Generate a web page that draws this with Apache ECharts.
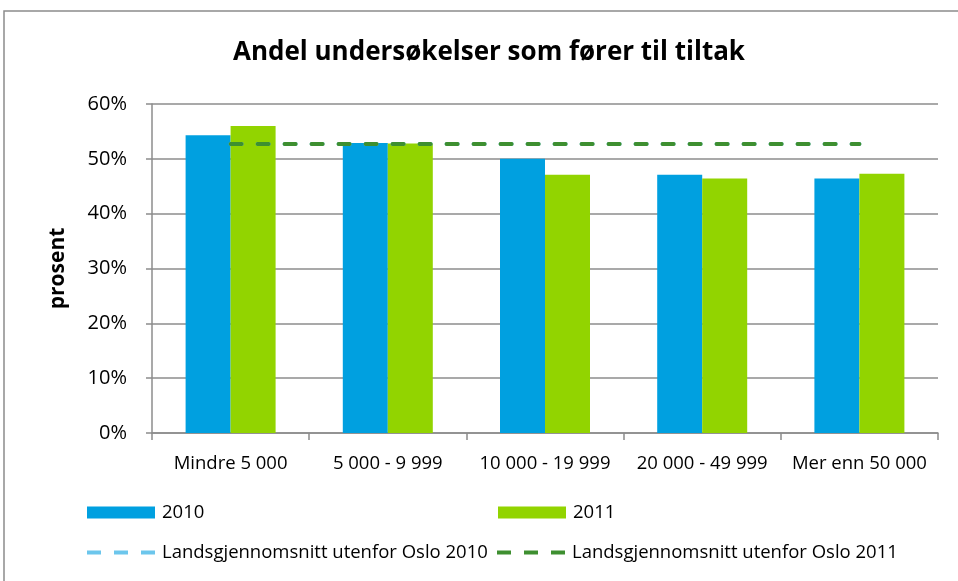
<!DOCTYPE html>
<html>
<head>
<meta charset="utf-8">
<script src="https://cdn.jsdelivr.net/npm/echarts@6/dist/echarts.min.js"></script>
<style>
  html, body { margin: 0; padding: 0; background: #fff; }
  #chart { width: 958px; height: 581px; }
</style>
</head>
<body>
<div id="chart"></div>
<script>
const categories = ['Mindre 5 000', '5 000 - 9 999', '10 000 - 19 999', '20 000 - 49 999', 'Mer enn 50 000']
const values2010 = [54.3, 52.9, 50.0, 47.1, 46.4]
const values2011 = [56.0, 52.8, 47.1, 46.4, 47.3]
const avg2010 = [52.7, 52.7, 52.7, 52.7, 52.7]
const avg2011 = [52.7, 52.7, 52.7, 52.7, 52.7]
const yTicks = [0, 10, 20, 30, 40, 50, 60]

const font = 'Open Sans'
const grey = '#8c8c8c'
// three short bars, used as legend icon for the dashed lines
const dashIcon = 'path://M0,0h14v4h-14z M27,0h14v4h-14z M54,0h14v4h-14z'

const myChart = echarts.init(document.getElementById('chart'))

const legendText = { fontFamily: font, fontSize: 18.5, color: '#000', padding: [0, 0, 0, 2] }

let option = {
  animation: false,
  backgroundColor: '#fff',
  textStyle: { fontFamily: font },
  graphic: [
    {
      type: 'rect',
      shape: { x: 4, y: 11, width: 1200, height: 1200 },
      style: { fill: 'none', stroke: grey, lineWidth: 1.5 },
      silent: true,
      z: -10
    }
  ],
  title: {
    text: 'Andel undersøkelser som fører til tiltak',
    left: 484,
    top: 35,
    textAlign: 'center',
    textStyle: { fontFamily: font, fontSize: 26, fontWeight: 'bold', color: '#000' }
  },
  grid: { left: 152, right: 20, top: 104, bottom: 148 },
  legend: [
    {
      left: 87, top: 503, padding: 0, itemWidth: 68, itemHeight: 12,
      data: [{ name: '2010', icon: 'rect' }], textStyle: legendText
    },
    {
      left: 498, top: 503, padding: 0, itemWidth: 68, itemHeight: 12,
      data: [{ name: '2011', icon: 'rect' }], textStyle: legendText
    },
    {
      left: 87, top: 543, padding: 0, itemWidth: 68, itemHeight: 4,
      data: [{ name: 'Landsgjennomsnitt utenfor Oslo 2010', icon: dashIcon }], textStyle: legendText
    },
    {
      left: 497, top: 543, padding: 0, itemWidth: 68, itemHeight: 4,
      data: [{ name: 'Landsgjennomsnitt utenfor Oslo 2011', icon: dashIcon }], textStyle: legendText
    }
  ],
  xAxis: {
    type: 'category',
    data: categories,
    axisLine: { lineStyle: { color: grey, width: 1.5 } },
    axisTick: { show: true, length: 7, lineStyle: { color: grey, width: 1.5 } },
    axisLabel: { fontFamily: font, fontSize: 18.5, color: '#000', margin: 21, interval: 0 }
  },
  yAxis: {
    type: 'value',
    min: yTicks[0],
    max: yTicks[yTicks.length - 1],
    interval: 10,
    name: 'prosent',
    nameLocation: 'middle',
    nameGap: 83,
    nameTextStyle: { fontFamily: font, fontSize: 21, fontWeight: 'bold', color: '#000' },
    axisLine: { show: true, lineStyle: { color: grey, width: 1.5 } },
    axisTick: { show: true, length: 6, lineStyle: { color: grey, width: 1.5 } },
    axisLabel: {
      fontFamily: font, fontSize: 20, color: '#000', margin: 25,
      formatter: (v) => v + '%'
    },
    splitLine: { lineStyle: { color: grey, width: 1.5 } }
  },
  series: [
    {
      name: '2010', type: 'bar', data: values2010,
      barWidth: 45, barGap: '0%',
      itemStyle: { color: '#00a0e0' }, z: 2
    },
    {
      name: '2011', type: 'bar', data: values2011,
      barWidth: 45, barGap: '0%',
      itemStyle: { color: '#92d400' }, z: 2
    },
    {
      name: 'Landsgjennomsnitt utenfor Oslo 2010', type: 'line', data: avg2010,
      symbol: 'none',
      lineStyle: { color: '#6cc6ec', width: 4, type: [11, 16], cap: 'round' },
      itemStyle: { color: '#6cc6ec' }, z: 3
    },
    {
      name: 'Landsgjennomsnitt utenfor Oslo 2011', type: 'line', data: avg2011,
      symbol: 'none',
      lineStyle: { color: '#3e8f30', width: 4, type: [11, 16], cap: 'round' },
      itemStyle: { color: '#3e8f30' }, z: 4
    }
  ]
}
myChart.setOption(option)
</script>
</body>
</html>
